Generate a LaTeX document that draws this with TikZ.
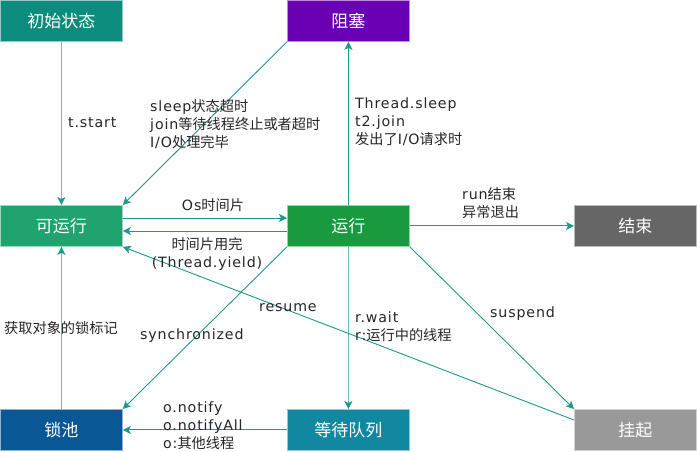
\documentclass[tikz,border=0pt]{standalone}
\usepackage{fontspec}
\setmainfont{DejaVu Sans}[LetterSpace=6]
\newfontfamily\cjk{Noto Sans CJK SC}
\newcommand{\zh}[1]{{\cjk #1}}
\usetikzlibrary{arrows.meta}
\definecolor{cInit}{HTML}{0C8C7C}
\definecolor{cBlock}{HTML}{6A00B4}
\definecolor{cReady}{HTML}{20A36E}
\definecolor{cRun}{HTML}{1A9A3E}
\definecolor{cEnd}{HTML}{666666}
\definecolor{cLock}{HTML}{0A5796}
\definecolor{cWait}{HTML}{1287A0}
\definecolor{cSusp}{HTML}{999999}
\definecolor{lnMed}{HTML}{1C9A8A}
\definecolor{lnLite}{HTML}{62C2B3}
\tikzset{
  state/.style={rectangle, anchor=north west, inner sep=0pt,
    minimum width=122pt, minimum height=41pt, text=white,
    font=\cjk\fontsize{17}{19}\selectfont, line width=0.8pt,
    fill=#1, draw=#1!45!white},
  med/.style={draw=lnMed, line width=0.9pt,
    -{Stealth[length=8pt,width=8pt,inset=2pt]}},
  lite/.style={draw=lnLite, line width=1.5pt,
    -{Stealth[length=8pt,width=8pt,inset=2pt,color=lnMed]}},
  lbl/.style={anchor=west, align=left, inner sep=0pt, text=black!85,
    font=\fontsize{14.2}{18}\selectfont},
}
\begin{document}
\begin{tikzpicture}[x=1pt,y=-1pt]
\useasboundingbox (0,0) rectangle (697,451);
\fill[white] (0,0) rectangle (697,451);

% states
\node[state=cInit]  (init)  at (0,0)     {初始状态};
\node[state=cBlock] (block) at (287,0)   {阻塞};
\node[state=cReady] (ready) at (0,205)   {可运行};
\node[state=cRun]   (run)   at (287,205) {运行};
\node[state=cEnd]   (done)  at (574,205) {结束};
\node[state=cLock]  (lock)  at (0,409)   {锁池};
\node[state=cWait]  (wait)  at (287,409) {等待队列};
\node[state=cSusp]  (susp)  at (574,409) {挂起};

% transitions (y grows downward, so a shift down is a negative yshift)
\draw[lite] (init.south) -- (ready.north);
\draw[med] (block.south west) -- (ready.north east);
\draw[med] (run.north) -- (block.south);
\draw[med] ([yshift=-13pt]ready.north east) -- ([yshift=-13pt]run.north west);
\draw[med] ([yshift=-26pt]run.north west) -- ([yshift=-26pt]ready.north east);
\draw[med] (run.east) -- (done.west);
\draw[lite] (run.south) -- (wait.north);
\draw[med] (run.south east) -- (susp.north west);
\draw[med] (run.south west) -- (lock.north east);
\draw[med] ([yshift=-11pt]susp.north west) -- (ready.south east);
\draw[med] (wait.west) -- (lock.east);
\draw[lite] (lock.north) -- (ready.south);

% labels
\node[lbl] (l1) at (68,123) {t.start};
\node[lbl] (l2) at (150,124) {sleep\zh{状态超时}\\join\zh{等待线程终止或者超时}\\I/O\zh{处理完毕}};
\node[lbl] (l3) at (355,122) {Thread.sleep\\t2.join\\\zh{发出了}I/O\zh{请求时}};
\node[lbl,anchor=center] (l4) at (213,205) {Os\zh{时间片}};
\node[lbl,anchor=center,align=center] (l5) at (207,254) {\zh{时间片用完}\\(Thread.yield)};
\node[lbl] (l6) at (462,203) {run\zh{结束}\\\zh{异常退出}};
\node[lbl] (l7) at (4,328) {\zh{获取对象的锁标记}};
\node[lbl] (l8) at (140,336) {synchronized};
\node[lbl] (l9) at (259,308) {resume};
\node[lbl] (l10) at (355,327) {r.wait\\r:\zh{运行中的线程}};
\node[lbl] (l11) at (490,314) {suspend};
\node[lbl] (l12) at (163,426) {o.notify\\o.notifyAll\\o:\zh{其他线程}};
\end{tikzpicture}
\end{document}
